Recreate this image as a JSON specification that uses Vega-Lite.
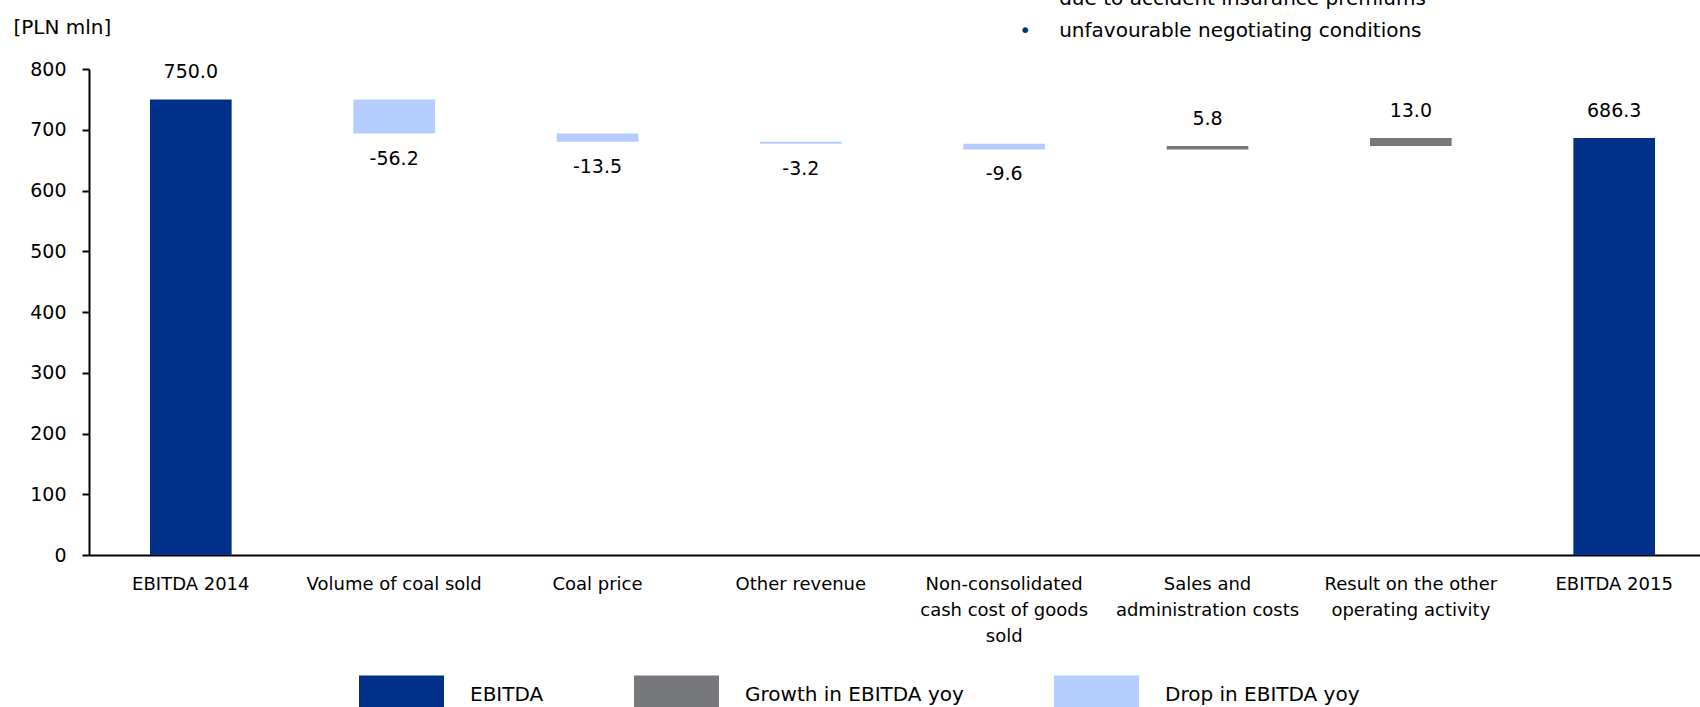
{
  "$schema": "https://vega.github.io/schema/vega-lite/v6.json",
  "autosize": {"type": "none"},
  "padding": {"left": 89, "top": 69, "right": 0, "bottom": 152},
  "width": 1611,
  "height": 486,
  "background": "white",
  "config": {
    "font": "DejaVu Sans",
    "view": {"stroke": null},
    "locale": {"number": {"decimal": ".", "thousands": ",", "grouping": [3], "currency": ["", ""], "minus": "-"}}
  },
  "data": {
    "values": [
      {"step": "EBITDA 2014", "kind": "EBITDA", "start": 0, "end": 750.0, "change": 750.0},
      {"step": "Volume of coal sold", "kind": "Drop in EBITDA yoy", "start": 750.0, "end": 693.8, "change": -56.2},
      {"step": "Coal price", "kind": "Drop in EBITDA yoy", "start": 693.8, "end": 680.3, "change": -13.5},
      {"step": "Other revenue", "kind": "Drop in EBITDA yoy", "start": 680.3, "end": 677.1, "change": -3.2},
      {"step": "Non-consolidated cash cost of goods sold", "kind": "Drop in EBITDA yoy", "start": 677.1, "end": 667.5, "change": -9.6},
      {"step": "Sales and administration costs", "kind": "Growth in EBITDA yoy", "start": 667.5, "end": 673.3, "change": 5.8},
      {"step": "Result on the other operating activity", "kind": "Growth in EBITDA yoy", "start": 673.3, "end": 686.3, "change": 13.0},
      {"step": "EBITDA 2015", "kind": "EBITDA", "start": 0, "end": 686.3, "change": 686.3}
    ]
  },
  "encoding": {
    "x": {
      "field": "step",
      "type": "nominal",
      "sort": null,
      "scale": {"paddingInner": 0.5985, "paddingOuter": 0.2606, "align": 0.5755},
      "axis": {
        "title": null,
        "domainColor": "black",
        "domainWidth": 2,
        "ticks": false,
        "tickSize": 0,
        "labelPadding": 20,
        "labelFontSize": 18,
        "labelColor": "black",
        "labelAngle": 0,
        "labelBaseline": "top",
        "labelLineHeight": 26,
        "labelLimit": 0,
        "labelOverlap": false,
        "labelExpr": "datum.value == 'Non-consolidated cash cost of goods sold' ? ['Non-consolidated', 'cash cost of goods', 'sold'] : datum.value == 'Sales and administration costs' ? ['Sales and', 'administration costs'] : datum.value == 'Result on the other operating activity' ? ['Result on the other', 'operating activity'] : datum.label"
      }
    },
    "y": {
      "type": "quantitative",
      "scale": {"domain": [0, 800], "nice": false},
      "axis": {
        "title": "[PLN mln]",
        "titleAngle": 0,
        "titleAlign": "left",
        "titleBaseline": "alphabetic",
        "titleX": -76,
        "titleY": -36,
        "titleFontSize": 20,
        "titleFontWeight": "normal",
        "titleColor": "black",
        "values": [0, 100, 200, 300, 400, 500, 600, 700, 800],
        "format": "d",
        "grid": false,
        "domainColor": "black",
        "domainWidth": 2,
        "tickColor": "black",
        "tickWidth": 2,
        "tickSize": 7,
        "labelPadding": 16,
        "labelFontSize": 19,
        "labelColor": "black"
      }
    }
  },
  "layer": [
    {
      "mark": {"type": "bar"},
      "encoding": {
        "y": {"field": "start"},
        "y2": {"field": "end"},
        "color": {
          "field": "kind",
          "type": "nominal",
          "scale": {
            "domain": ["EBITDA", "Growth in EBITDA yoy", "Drop in EBITDA yoy"],
            "range": ["#003087", "#76787B", "#B4CDFE"]
          },
          "legend": {
            "orient": "none",
            "legendX": 270,
            "legendY": 583,
            "direction": "horizontal",
            "columns": 3,
            "title": null,
            "padding": 0,
            "symbolType": "M-1,-0.46H1V0.46H-1Z",
            "symbolSize": 7225,
            "symbolStrokeWidth": 0,
            "symbolOpacity": 1,
            "labelFontSize": 20,
            "labelColor": "black",
            "labelOffset": 26,
            "labelLimit": 400,
            "columnPadding": 90
          }
        }
      }
    },
    {
      "transform": [{"filter": "datum.kind != 'Drop in EBITDA yoy'"}],
      "mark": {"type": "text", "baseline": "middle", "dy": -27, "fontSize": 19, "color": "black"},
      "encoding": {
        "y": {"field": "end"},
        "text": {"field": "change", "type": "quantitative", "format": ".1f"}
      }
    },
    {
      "transform": [{"filter": "datum.kind == 'Drop in EBITDA yoy'"}],
      "mark": {"type": "text", "baseline": "middle", "dy": 25, "fontSize": 19, "color": "black"},
      "encoding": {
        "y": {"field": "end"},
        "text": {"field": "change", "type": "quantitative", "format": ".1f"}
      }
    },
    {
      "data": {"values": [{"note": "bullet"}]},
      "mark": {"type": "text", "text": "•", "align": "center", "baseline": "alphabetic", "dx": 21, "fontSize": 20, "color": "#003087"},
      "encoding": {
        "x": {"datum": "Non-consolidated cash cost of goods sold"},
        "y": {"datum": 852}
      }
    },
    {
      "data": {"values": [{"note": "lines"}]},
      "mark": {
        "type": "text",
        "text": ["due to accident insurance premiums", "unfavourable negotiating conditions"],
        "align": "left",
        "baseline": "alphabetic",
        "lineHeight": 32,
        "dx": 55,
        "fontSize": 20,
        "color": "black"
      },
      "encoding": {
        "x": {"datum": "Non-consolidated cash cost of goods sold"},
        "y": {"datum": 905}
      }
    }
  ]
}
